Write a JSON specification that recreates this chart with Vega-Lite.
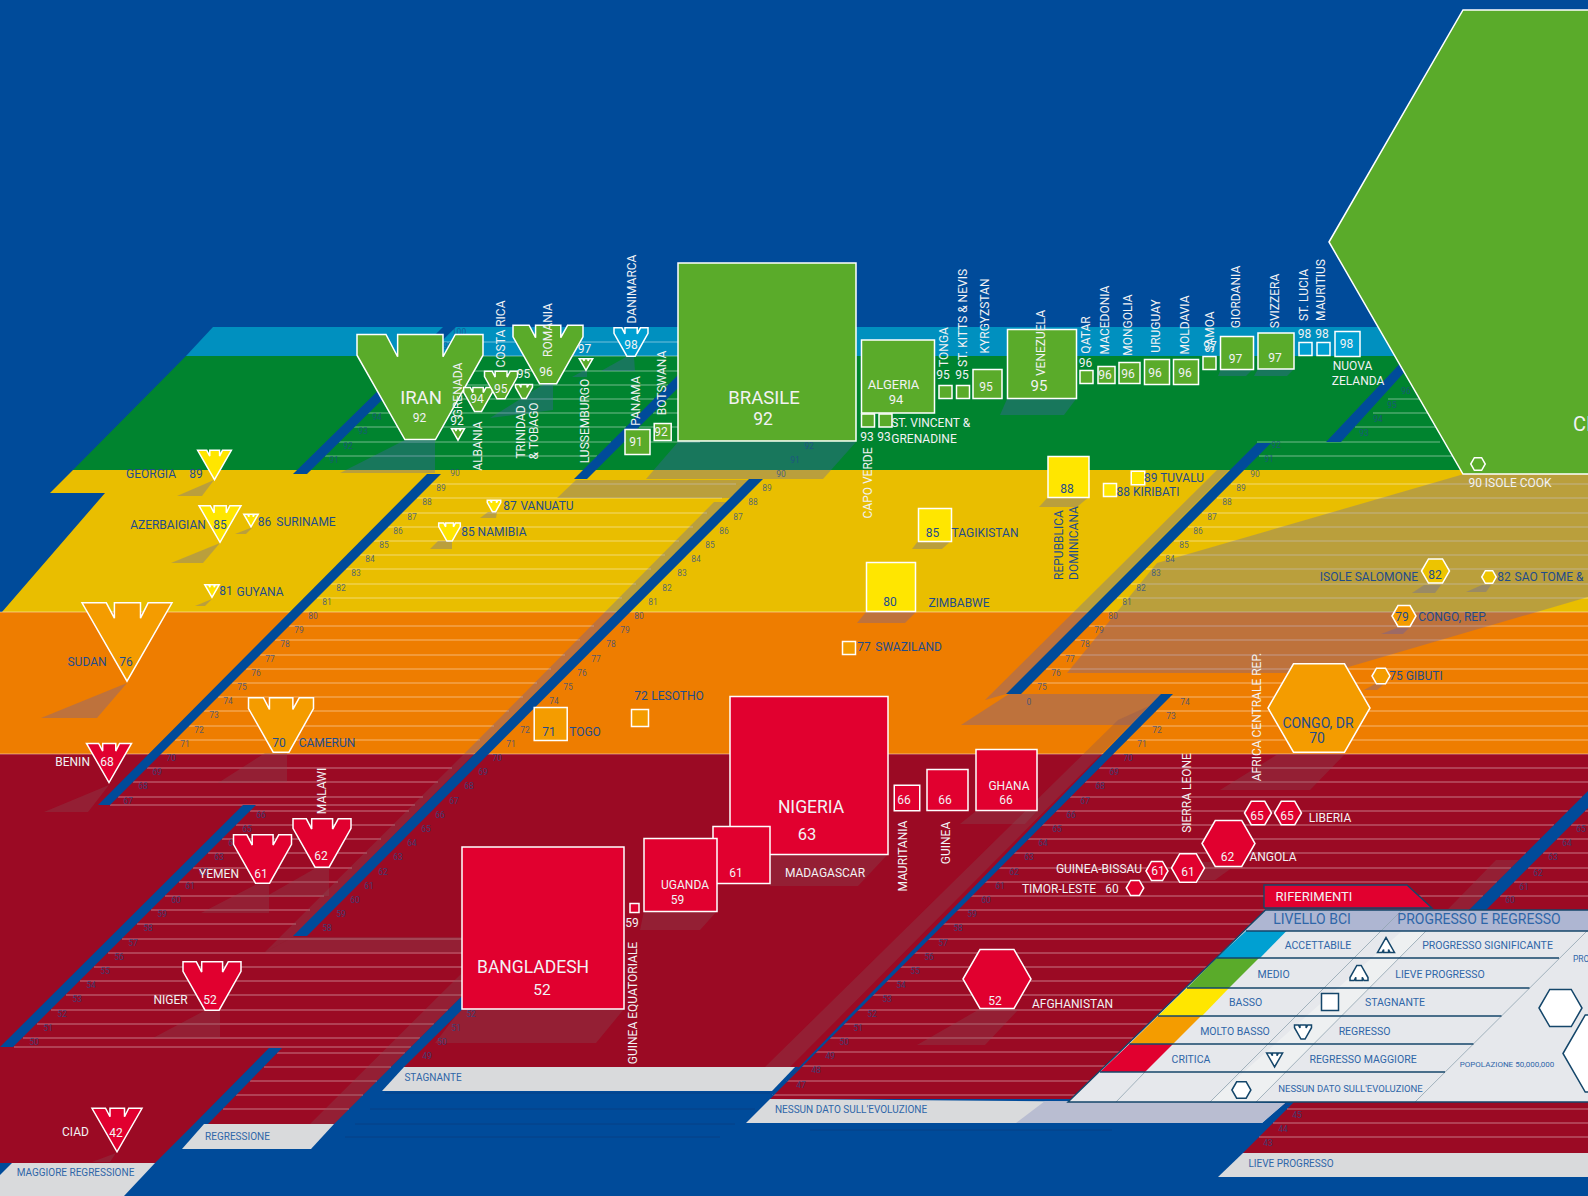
{
"$schema":"https://vega.github.io/schema/vega-lite/v6.json",
"width":1588,"height":1196,"padding":0,"autosize":{"type":"none"},"background":"#004B9A",
"config":{"view":{"stroke":null}},
"datasets":{
"bands":[
{"id":"b1","kind":"bandBlue","x":[213,1588,1588,186],"y":[327,327,356,356]},
{"id":"b2","kind":"bandGreen","x":[186,1588,1588,73],"y":[356,356,470,470]},
{"id":"b3","kind":"bandYellow","x":[73,1588,1588,2,105,50],"y":[470,470,612,612,493,493]},
{"id":"b4","kind":"bandOrange","x":[0,1588,1588,0],"y":[612,612,754,754]},
{"id":"b5","kind":"bandRed","x":[0,1588,1588,1243,1290,1276,1276,770,799,404,391,334,194,155,0],"y":[754,754,1153,1153,1106,1103,1099,1099,1067,1067,1067,1124,1124,1163,1163]}
],
"rows":[
{"y":612,"x":0,"x2":1588},{"y":754,"x":0,"x2":1588},
{"y":342,"x":439,"x2":711},{"y":356,"x":425,"x2":697},{"y":371,"x":410,"x2":682},{"y":385,"x":396,"x2":668},{"y":399,"x":382,"x2":654},{"y":413,"x":368,"x2":640},{"y":427,"x":354,"x2":626},{"y":442,"x":339,"x2":611},{"y":456,"x":325,"x2":597},
{"y":399,"x":667,"x2":700},{"y":413,"x":653,"x2":700},{"y":427,"x":639,"x2":700},{"y":442,"x":624,"x2":700},
{"y":484,"x":431,"x2":736},{"y":498,"x":417,"x2":722},{"y":513,"x":402,"x2":707},{"y":527,"x":388,"x2":693},{"y":541,"x":374,"x2":679},{"y":555,"x":360,"x2":665},{"y":569,"x":346,"x2":651},{"y":584,"x":331,"x2":636},{"y":598,"x":317,"x2":622},{"y":626,"x":289,"x2":594},{"y":640,"x":275,"x2":580},{"y":655,"x":260,"x2":565},{"y":669,"x":246,"x2":551},{"y":683,"x":232,"x2":537},{"y":697,"x":218,"x2":523},{"y":711,"x":204,"x2":509},{"y":726,"x":189,"x2":494},{"y":740,"x":175,"x2":480},{"y":768,"x":147,"x2":452},{"y":782,"x":133,"x2":438},{"y":797,"x":118,"x2":423},{"y":805,"x":110,"x2":415},
{"y":811,"x":250,"x2":409},{"y":825,"x":236,"x2":395},{"y":839,"x":222,"x2":381},{"y":853,"x":208,"x2":367},{"y":868,"x":193,"x2":352},{"y":882,"x":179,"x2":338},{"y":896,"x":165,"x2":324},{"y":910,"x":151,"x2":310},{"y":924,"x":137,"x2":296},{"y":939,"x":122,"x2":462},{"y":953,"x":108,"x2":462},{"y":967,"x":94,"x2":462},{"y":981,"x":80,"x2":462},{"y":995,"x":66,"x2":462},{"y":1010,"x":51,"x2":448},{"y":1024,"x":37,"x2":434},{"y":1038,"x":23,"x2":420},{"y":1047,"x":14,"x2":411},
{"y":1053,"x":277,"x2":405},{"y":1067,"x":264,"x2":391},{"y":1081,"x":250,"x2":377},{"y":1095,"x":236,"x2":363},{"y":1109,"x":223,"x2":349},
{"y":456,"x":1259,"x2":1460},{"y":442,"x":1257,"x2":1440},{"y":427,"x":1355,"x2":1438},{"y":413,"x":1373,"x2":1430},{"y":399,"x":1388,"x2":1421},
{"y":484,"x":1231,"x2":1588},{"y":498,"x":1217,"x2":1588},{"y":513,"x":1202,"x2":1588},{"y":527,"x":1188,"x2":1588},{"y":541,"x":1174,"x2":1588},{"y":555,"x":1160,"x2":1588},{"y":569,"x":1146,"x2":1588},{"y":584,"x":1131,"x2":1588},{"y":598,"x":1117,"x2":1588},{"y":626,"x":1089,"x2":1588},{"y":640,"x":1075,"x2":1588},{"y":655,"x":1060,"x2":1588},{"y":669,"x":1046,"x2":1588},{"y":683,"x":1032,"x2":1588},
{"y":697,"x":1170,"x2":1588},{"y":711,"x":1156,"x2":1588},{"y":726,"x":1141,"x2":1588},{"y":740,"x":1127,"x2":1588},
{"y":768,"x":1099,"x2":1588},{"y":782,"x":1085,"x2":1588},{"y":797,"x":1070,"x2":1582},{"y":811,"x":1056,"x2":1568},{"y":825,"x":1042,"x2":1554},{"y":839,"x":1028,"x2":1540},{"y":853,"x":1014,"x2":1526},{"y":868,"x":999,"x2":1511},{"y":882,"x":985,"x2":1497},{"y":896,"x":971,"x2":1483},{"y":910,"x":957,"x2":1469},{"y":924,"x":943,"x2":1455},{"y":939,"x":928,"x2":1440},{"y":953,"x":914,"x2":1426},{"y":967,"x":900,"x2":1412},{"y":981,"x":886,"x2":1398},{"y":995,"x":872,"x2":1384},{"y":1010,"x":857,"x2":1369},{"y":1024,"x":843,"x2":1355},{"y":1038,"x":829,"x2":1341},{"y":1052,"x":815,"x2":1327},{"y":1066,"x":801,"x2":1313},{"y":1081,"x":786,"x2":1298},{"y":1095,"x":772,"x2":1284},
{"y":811,"x":1585,"x2":1588},{"y":825,"x":1571,"x2":1588},{"y":839,"x":1557,"x2":1588},{"y":853,"x":1543,"x2":1588},{"y":868,"x":1528,"x2":1588},{"y":882,"x":1514,"x2":1588},{"y":896,"x":1500,"x2":1588},{"y":1109,"x":1287,"x2":1588},{"y":1123,"x":1273,"x2":1588},{"y":1137,"x":1259,"x2":1588}
],
"shadows":[
{"id":"c1","kind":"shadow","x":[1464,1157,1067,1292,1345,1588,1588],"y":[474,563,673,673,668,597,474]},
{"id":"c2","kind":"shadow","x":[1217,1229,1006,985],"y":[470,470,694,700]},
{"id":"c3","kind":"shadow","x":[1009,1165,1142,961],"y":[694,694,725,725]},
{"id":"c4","kind":"shadowRed","x":[1118,1149,790,765],"y":[720,706,1067,1067]},
{"id":"c5","kind":"shadowRed","x":[1496,1519,1360,1340],"y":[860,860,1020,1020]},
{"id":"d1","kind":"shadow","x":[646,678,856,823],"y":[479,442,442,479]},
{"id":"d2","kind":"shadow","x":[557,576,749,730],"y":[498,480,480,498]},
{"id":"d3","kind":"shadow","x":[714,726,475,465],"y":[502,502,753,753]},
{"id":"d4","kind":"shadowRed","x":[465,475,293,265],"y":[753,753,937,952]},
{"id":"d5","kind":"shadowRed","x":[293,462,462,265],"y":[937,937,952,952]},
{"id":"d6","kind":"shadowRed","x":[461,461,334,310],"y":[974,997,1124,1124]},
{"id":"d7","kind":"shadowRed","x":[461,624,596,435],"y":[1009,1009,1043,1043]},
{"id":"s1","kind":"shadow","x":[127,97,41],"y":[683,718,718]},
{"id":"s2","kind":"shadow","x":[214,202,177],"y":[480,496,496]},
{"id":"s3","kind":"shadow","x":[220,203,171],"y":[543,563,563]},
{"id":"s4","kind":"shadow","x":[253,246,235],"y":[527,534,534]},
{"id":"s5","kind":"shadow","x":[212,205,195],"y":[599,606,606]},
{"id":"s6","kind":"shadow","x":[438,452,452,430],"y":[541,541,549,549]},
{"id":"s7","kind":"shadow","x":[488,497,496,480],"y":[512,512,518,518]},
{"id":"s8","kind":"shadowRed","x":[265,287,287,218],"y":[753,753,782,783]},
{"id":"s9","kind":"shadowRed","x":[109,88,44],"y":[785,812,812]},
{"id":"s10","kind":"shadowRed","x":[257,269,269,201],"y":[884,884,913,913]},
{"id":"s11","kind":"shadowRed","x":[316,329,329,265],"y":[868,868,896,897]},
{"id":"s12","kind":"shadowRed","x":[204,220,220,153],"y":[1011,1011,1038,1038]},
{"id":"s13","kind":"shadowRed","x":[116,110,92],"y":[1153,1162,1162]},
{"id":"s14","kind":"shadow","x":[405,435,435,340],"y":[440,440,473,473]},
{"id":"s15","kind":"shadow","x":[544,553,553,490],"y":[384,384,410,418]},
{"id":"s16","kind":"shadow","x":[626,634,635,601],"y":[357,357,371,371]},
{"id":"s17","kind":"shadow","x":[583,587,587,572],"y":[371,371,377,377]},
{"id":"s18","kind":"shadow","x":[1007,1076,1064,1000],"y":[399,399,415,415]},
{"id":"s19","kind":"shadow","x":[1221,1253,1246,1218],"y":[369,369,376,376]},
{"id":"s20","kind":"shadow","x":[1258,1294,1287,1254],"y":[369,369,376,376]},
{"id":"s21","kind":"shadow","x":[1048,1089,1077,1039],"y":[497,497,507,507]},
{"id":"s22","kind":"shadow","x":[918,951,942,912],"y":[541,541,549,549]},
{"id":"s23","kind":"shadow","x":[866,916,905,857],"y":[612,612,623,623]},
{"id":"s24","kind":"shadowRed","x":[770,888,858,770],"y":[854,854,886,886]},
{"id":"s25","kind":"shadowRed","x":[644,717,700,640],"y":[911,911,930,930]},
{"id":"s26","kind":"shadowRed","x":[976,1037,1025,960],"y":[811,811,824,824]},
{"id":"s27","kind":"shadow","x":[1424,1441,1435,1412],"y":[585,585,593,593]},
{"id":"s28","kind":"shadow","x":[1482,1491,1486,1466],"y":[585,585,592,592]},
{"id":"s29","kind":"shadow","x":[1397,1409,1403,1381],"y":[628,628,634,634]},
{"id":"s30","kind":"shadow","x":[1375,1384,1377,1364],"y":[684,684,690,690]},
{"id":"s31","kind":"shadowRed","x":[1278,1345,1310,1220],"y":[754,754,790,790]},
{"id":"s32","kind":"shadowRed","x":[978,1018,985,917],"y":[1010,1010,1045,1045]},
{"id":"s33","kind":"shadowRed","x":[1200,1240,1215,1185],"y":[862,862,880,880]}
],
"strips":[
{"id":"a","kind":"strip","x":[443,456,307,293],"y":[327,327,474,474]},
{"id":"b","kind":"strip","x":[427,441,110,98],"y":[474,474,805,805]},
{"id":"c","kind":"strip","x":[243,256,13,0],"y":[805,805,1047,1047]},
{"id":"d","kind":"strip","x":[269,282,208,194],"y":[1048,1048,1124,1124]},
{"id":"e","kind":"strip","x":[574,587,730,717],"y":[479,479,336,336]},
{"id":"f","kind":"strip","x":[749,763,307,293],"y":[479,479,936,936]},
{"id":"g","kind":"strip","x":[465,479,404,391],"y":[993,993,1067,1067]},
{"id":"h","kind":"strip","x":[1257,1271,1021,1006],"y":[443,443,694,694]},
{"id":"i","kind":"strip","x":[1326,1341,1420,1408],"y":[442,442,355,355]},
{"id":"j","kind":"strip","x":[1161,1173,770,746],"y":[694,694,1099,1122]},
{"id":"k","kind":"strip","x":[1588,1588,1290,1276],"y":[791,808,1106,1103]},
{"id":"l1","kind":"label","x":[12,155,124,0,0],"y":[1163,1163,1196,1196,1175]},
{"id":"l2","kind":"label","x":[204,334,311,182],"y":[1124,1124,1149,1149]},
{"id":"l3","kind":"label","x":[404,795,772,382],"y":[1067,1067,1091,1091]},
{"id":"l4","kind":"label","x":[770,1285,1262,746],"y":[1099,1103,1123,1123]},
{"id":"l5","kind":"label","x":[1243,1588,1588,1218],"y":[1153,1153,1177,1177]}
],
"darkrows":[
{"y":1093,"x":385,"x2":770},{"y":1109,"x":370,"x2":755},{"y":1124,"x":355,"x2":735},{"y":1137,"x":345,"x2":720},{"y":1130,"x":810,"x2":1112}
],
"ticks":[
{"t":"89","x":441,"y":488},{"t":"88","x":427,"y":502},{"t":"87","x":412,"y":517},{"t":"86","x":398,"y":531},{"t":"85","x":384,"y":545},{"t":"84","x":370,"y":559},{"t":"83","x":356,"y":573},{"t":"82","x":341,"y":588},{"t":"81","x":327,"y":602},{"t":"80","x":313,"y":616},{"t":"79","x":299,"y":630},{"t":"78","x":285,"y":644},{"t":"77","x":270,"y":659},{"t":"76","x":256,"y":673},{"t":"75","x":242,"y":687},{"t":"74","x":228,"y":701},{"t":"73","x":214,"y":715},{"t":"72","x":199,"y":730},{"t":"71","x":185,"y":744},{"t":"70","x":171,"y":758},{"t":"69","x":157,"y":772},{"t":"68","x":143,"y":786},{"t":"67","x":128,"y":801},
{"t":"91","x":334,"y":460},{"t":"92","x":348,"y":446},{"t":"93","x":363,"y":431},{"t":"94","x":377,"y":417},{"t":"95","x":391,"y":403},{"t":"96","x":405,"y":389},{"t":"97","x":419,"y":375},{"t":"98","x":434,"y":360},{"t":"99","x":448,"y":346},{"t":"100","x":459,"y":332},{"t":"90","x":455,"y":473},
{"t":"66","x":261,"y":815},{"t":"65","x":247,"y":829},{"t":"64","x":233,"y":843},{"t":"63","x":219,"y":857},{"t":"62","x":204,"y":872},{"t":"61","x":190,"y":886},{"t":"60","x":176,"y":900},{"t":"59","x":162,"y":914},{"t":"58","x":148,"y":928},{"t":"57","x":133,"y":943},{"t":"56","x":119,"y":957},{"t":"55","x":105,"y":971},{"t":"54","x":91,"y":985},{"t":"53","x":77,"y":999},{"t":"52","x":62,"y":1014},{"t":"51","x":48,"y":1028},{"t":"50","x":34,"y":1042},
{"t":"92","x":809,"y":446},{"t":"91","x":795,"y":460},{"t":"90","x":781,"y":474},{"t":"89","x":767,"y":488},{"t":"88","x":753,"y":502},{"t":"87","x":738,"y":517},{"t":"86","x":724,"y":531},{"t":"85","x":710,"y":545},{"t":"84","x":696,"y":559},{"t":"83","x":682,"y":573},{"t":"82","x":667,"y":588},{"t":"81","x":653,"y":602},{"t":"80","x":639,"y":616},{"t":"79","x":625,"y":630},{"t":"78","x":611,"y":644},{"t":"77","x":596,"y":659},{"t":"76","x":582,"y":673},{"t":"75","x":568,"y":687},{"t":"74","x":554,"y":701},{"t":"72","x":525,"y":730},{"t":"71","x":511,"y":744},{"t":"70","x":497,"y":758},{"t":"69","x":483,"y":772},{"t":"68","x":469,"y":786},{"t":"67","x":454,"y":801},{"t":"66","x":440,"y":815},{"t":"65","x":426,"y":829},{"t":"64","x":412,"y":843},{"t":"63","x":398,"y":857},{"t":"62","x":383,"y":872},{"t":"61","x":369,"y":886},{"t":"60","x":355,"y":900},{"t":"59","x":341,"y":914},{"t":"58","x":327,"y":928},
{"t":"52","x":471,"y":1014},{"t":"51","x":456,"y":1028},{"t":"50","x":442,"y":1042},{"t":"49","x":427,"y":1056},
{"t":"92","x":1276,"y":445},{"t":"91","x":1269,"y":459},{"t":"90","x":1255,"y":474},{"t":"89","x":1241,"y":488},{"t":"88","x":1227,"y":502},{"t":"87","x":1212,"y":517},{"t":"86","x":1198,"y":531},{"t":"85","x":1184,"y":545},{"t":"84","x":1170,"y":559},{"t":"83","x":1156,"y":573},{"t":"82","x":1141,"y":588},{"t":"81","x":1127,"y":602},{"t":"80","x":1113,"y":616},{"t":"79","x":1099,"y":630},{"t":"78","x":1085,"y":644},{"t":"77","x":1070,"y":659},{"t":"76","x":1056,"y":673},{"t":"75","x":1042,"y":687},{"t":"0","x":1029,"y":702},
{"t":"93","x":1364,"y":433},{"t":"94","x":1378,"y":419},{"t":"95","x":1392,"y":405},{"t":"96","x":1406,"y":391},
{"t":"74","x":1185,"y":702},{"t":"73","x":1171,"y":716},{"t":"72","x":1157,"y":730},{"t":"71","x":1142,"y":744},
{"t":"70","x":1128,"y":758},{"t":"69","x":1114,"y":772},{"t":"68","x":1100,"y":786},{"t":"67","x":1085,"y":801},{"t":"66","x":1071,"y":815},{"t":"65","x":1057,"y":829},{"t":"64","x":1043,"y":843},{"t":"63","x":1029,"y":857},{"t":"62","x":1014,"y":872},{"t":"61","x":1000,"y":886},{"t":"60","x":986,"y":900},{"t":"59","x":972,"y":914},{"t":"58","x":958,"y":928},{"t":"57","x":943,"y":943},{"t":"56","x":929,"y":957},{"t":"55","x":915,"y":971},{"t":"54","x":901,"y":985},{"t":"53","x":887,"y":999},{"t":"52","x":872,"y":1014},{"t":"51","x":858,"y":1028},{"t":"50","x":844,"y":1042},{"t":"49","x":830,"y":1056},{"t":"48","x":816,"y":1070},{"t":"47","x":801,"y":1085},
{"t":"65","x":1581,"y":829},{"t":"64","x":1567,"y":843},{"t":"63","x":1553,"y":857},{"t":"62","x":1538,"y":873},{"t":"61","x":1524,"y":887},{"t":"60","x":1510,"y":900},{"t":"45","x":1297,"y":1115},{"t":"44","x":1283,"y":1129},{"t":"43","x":1268,"y":1143}
],
"countries":[
{"name":"Cina","bci":91,"x":1597,"y":242,"area":287296,"level":"Medio","trend":"Nessun dato"},
{"name":"Isole Cook","bci":90,"x":1478,"y":464,"area":210,"level":"Medio","trend":"Nessun dato"},
{"name":"Georgia","bci":89,"x":214.5,"y":465,"area":1142,"level":"Basso","trend":"Maggiore regressione"},
{"name":"Azerbaigian","bci":85,"x":220,"y":524,"area":1764,"level":"Basso","trend":"Maggiore regressione"},
{"name":"Suriname","bci":86,"x":251,"y":520.5,"area":210,"level":"Basso","trend":"Maggiore regressione"},
{"name":"Guyana","bci":81,"x":212,"y":591,"area":210,"level":"Basso","trend":"Maggiore regressione"},
{"name":"Sudan","bci":76,"x":127,"y":642,"area":8100,"level":"Molto basso","trend":"Maggiore regressione"},
{"name":"Camerun","bci":70,"x":281,"y":725,"area":4225,"level":"Molto basso","trend":"Regressione"},
{"name":"Iran","bci":92,"x":420,"y":387,"area":15876,"level":"Medio","trend":"Regressione"},
{"name":"Namibia","bci":85,"x":449.5,"y":532,"area":467,"level":"Basso","trend":"Regressione"},
{"name":"Vanuatu","bci":87,"x":494,"y":506,"area":182,"level":"Basso","trend":"Regressione"},
{"name":"Albania","bci":92,"x":458,"y":434.5,"area":169,"level":"Medio","trend":"Maggiore regressione"},
{"name":"Grenada","bci":94,"x":478,"y":399.5,"area":824,"level":"Medio","trend":"Regressione"},
{"name":"Costa Rica","bci":95,"x":501,"y":385,"area":1089,"level":"Medio","trend":"Regressione"},
{"name":"Trinidad & Tobago","bci":95,"x":524,"y":391.5,"area":289,"level":"Medio","trend":"Regressione"},
{"name":"Romania","bci":96,"x":548,"y":354.5,"area":4900,"level":"Medio","trend":"Regressione"},
{"name":"Lussemburgo","bci":97,"x":586,"y":364.5,"area":182,"level":"Medio","trend":"Maggiore regressione"},
{"name":"Danimarca","bci":98,"x":631,"y":342,"area":1156,"level":"Accettabile","trend":"Regressione"},
{"name":"Benin","bci":68,"x":109,"y":763,"area":2025,"level":"Critica","trend":"Maggiore regressione"},
{"name":"Malawi","bci":62,"x":322,"y":843,"area":3364,"level":"Critica","trend":"Regressione"},
{"name":"Yemen","bci":61,"x":262.5,"y":859,"area":3364,"level":"Critica","trend":"Regressione"},
{"name":"Niger","bci":52,"x":212,"y":986,"area":3364,"level":"Critica","trend":"Regressione"},
{"name":"Ciad","bci":42,"x":117,"y":1130,"area":2500,"level":"Critica","trend":"Maggiore regressione"},
{"name":"Brasile","bci":92,"x":767,"y":352,"area":31684,"level":"Medio","trend":"Stagnante"},
{"name":"Algeria","bci":94,"x":898,"y":376.5,"area":5329,"level":"Medio","trend":"Stagnante"},
{"name":"Capo Verde","bci":93,"x":868,"y":420.5,"area":169,"level":"Medio","trend":"Stagnante"},
{"name":"St. Vincent & Grenadine","bci":93,"x":885.5,"y":420.5,"area":169,"level":"Medio","trend":"Stagnante"},
{"name":"Tonga","bci":95,"x":945.5,"y":392,"area":169,"level":"Medio","trend":"Stagnante"},
{"name":"St. Kitts & Nevis","bci":95,"x":963,"y":392,"area":169,"level":"Medio","trend":"Stagnante"},
{"name":"Kyrgyzstan","bci":95,"x":987.5,"y":384,"area":841,"level":"Medio","trend":"Stagnante"},
{"name":"Venezuela","bci":95,"x":1042,"y":364,"area":4761,"level":"Medio","trend":"Stagnante"},
{"name":"Qatar","bci":96,"x":1086.5,"y":377,"area":169,"level":"Medio","trend":"Stagnante"},
{"name":"Macedonia","bci":96,"x":1106.5,"y":375,"area":289,"level":"Medio","trend":"Stagnante"},
{"name":"Mongolia","bci":96,"x":1129.5,"y":373,"area":441,"level":"Medio","trend":"Stagnante"},
{"name":"Uruguay","bci":96,"x":1157,"y":372,"area":625,"level":"Medio","trend":"Stagnante"},
{"name":"Moldavia","bci":96,"x":1186,"y":372,"area":625,"level":"Medio","trend":"Stagnante"},
{"name":"Samoa","bci":97,"x":1209.5,"y":363,"area":169,"level":"Medio","trend":"Stagnante"},
{"name":"Giordania","bci":97,"x":1237,"y":353,"area":1089,"level":"Medio","trend":"Stagnante"},
{"name":"Svizzera","bci":97,"x":1276,"y":351,"area":1296,"level":"Medio","trend":"Stagnante"},
{"name":"St. Lucia","bci":98,"x":1305.5,"y":349,"area":169,"level":"Accettabile","trend":"Stagnante"},
{"name":"Mauritius","bci":98,"x":1323.5,"y":349,"area":169,"level":"Accettabile","trend":"Stagnante"},
{"name":"Nuova Zelanda","bci":98,"x":1347.5,"y":344,"area":625,"level":"Accettabile","trend":"Stagnante"},
{"name":"Panama","bci":91,"x":637.5,"y":442,"area":625,"level":"Medio","trend":"Stagnante"},
{"name":"Botswana","bci":92,"x":662.7,"y":432,"area":289,"level":"Medio","trend":"Stagnante"},
{"name":"Repubblica Dominicana","bci":88,"x":1068.5,"y":477,"area":1681,"level":"Basso","trend":"Stagnante"},
{"name":"Tuvalu","bci":89,"x":1138,"y":478,"area":182,"level":"Basso","trend":"Stagnante"},
{"name":"Kiribati","bci":88,"x":1110,"y":490,"area":169,"level":"Basso","trend":"Stagnante"},
{"name":"Tagikistan","bci":85,"x":935,"y":525,"area":1089,"level":"Basso","trend":"Stagnante"},
{"name":"Zimbabwe","bci":80,"x":891,"y":587,"area":2401,"level":"Basso","trend":"Stagnante"},
{"name":"Swaziland","bci":77,"x":849,"y":648,"area":169,"level":"Molto basso","trend":"Stagnante"},
{"name":"Lesotho","bci":72,"x":640,"y":718,"area":289,"level":"Molto basso","trend":"Stagnante"},
{"name":"Togo","bci":71,"x":550.7,"y":724,"area":1089,"level":"Molto basso","trend":"Stagnante"},
{"name":"Nigeria","bci":63,"x":809,"y":775.5,"area":24964,"level":"Critica","trend":"Stagnante"},
{"name":"Madagascar","bci":61,"x":741.5,"y":855,"area":3249,"level":"Critica","trend":"Stagnante"},
{"name":"Uganda","bci":59,"x":680.5,"y":875,"area":5329,"level":"Critica","trend":"Stagnante"},
{"name":"Bangladesh","bci":52,"x":543,"y":928,"area":26244,"level":"Critica","trend":"Stagnante"},
{"name":"Guinea Equatoriale","bci":59,"x":634.5,"y":908,"area":81,"level":"Critica","trend":"Stagnante"},
{"name":"Mauritania","bci":66,"x":907,"y":798,"area":650,"level":"Critica","trend":"Stagnante"},
{"name":"Guinea","bci":66,"x":947.5,"y":790,"area":1681,"level":"Critica","trend":"Stagnante"},
{"name":"Ghana","bci":66,"x":1006.5,"y":780,"area":3721,"level":"Critica","trend":"Stagnante"},
{"name":"Isole Salomone","bci":82,"x":1435.5,"y":571,"area":784,"level":"Basso scuro","trend":"Nessun dato"},
{"name":"Sao Tome","bci":82,"x":1489,"y":577,"area":210,"level":"Basso scuro","trend":"Nessun dato"},
{"name":"Congo, Rep.","bci":79,"x":1404,"y":616,"area":576,"level":"Molto basso","trend":"Nessun dato"},
{"name":"Gibuti","bci":75,"x":1381,"y":676,"area":324,"level":"Molto basso","trend":"Nessun dato"},
{"name":"Congo, DR","bci":70,"x":1319,"y":708,"area":10404,"level":"Molto basso","trend":"Nessun dato"},
{"name":"Africa Centrale Rep.","bci":65,"x":1258,"y":813,"area":729,"level":"Critica","trend":"Nessun dato"},
{"name":"Liberia","bci":65,"x":1288,"y":813,"area":729,"level":"Critica","trend":"Nessun dato"},
{"name":"Angola","bci":62,"x":1228.5,"y":843.5,"area":2809,"level":"Critica","trend":"Nessun dato"},
{"name":"Sierra Leone","bci":61,"x":1188,"y":868,"area":1089,"level":"Critica","trend":"Nessun dato"},
{"name":"Guinea-Bissau","bci":61,"x":1157,"y":871,"area":484,"level":"Critica","trend":"Nessun dato"},
{"name":"Timor-Leste","bci":60,"x":1135,"y":888,"area":306,"level":"Critica","trend":"Nessun dato"},
{"name":"Afghanistan","bci":52,"x":997,"y":979,"area":4624,"level":"Critica","trend":"Nessun dato"}
],
"texth":[
{"t":"CINA","x":1596,"y":425,"s":20,"k":"light"},{"t":"91","x":1598,"y":450,"s":18,"k":"light"},
{"t":"GEORGIA","x":151,"y":474,"s":12,"k":"dark"},{"t":"89","x":196,"y":474,"s":12,"k":"dark"},
{"t":"AZERBAIGIAN","x":168,"y":525,"s":12,"k":"dark"},{"t":"85","x":220,"y":525,"s":12,"k":"dark"},
{"t":"86","x":264.5,"y":522,"s":12,"k":"dark"},{"t":"SURINAME","x":306,"y":522,"s":12,"k":"dark"},
{"t":"81","x":226,"y":591,"s":12,"k":"dark"},{"t":"GUYANA","x":260,"y":592,"s":12,"k":"dark"},
{"t":"SUDAN","x":87,"y":662,"s":12,"k":"dark"},{"t":"76","x":126,"y":662,"s":12,"k":"dark"},
{"t":"70","x":279,"y":743,"s":12,"k":"dark"},{"t":"CAMERUN","x":327,"y":743,"s":12,"k":"dark"},
{"t":"IRAN","x":421,"y":398,"s":18.5,"k":"light"},{"t":"92","x":419.6,"y":418,"s":12,"k":"light"},
{"t":"92","x":457,"y":421,"s":12,"k":"light"},{"t":"94","x":477,"y":399,"s":12,"k":"light"},{"t":"95","x":500.7,"y":389,"s":12,"k":"light"},{"t":"95","x":523.6,"y":374,"s":12,"k":"light"},{"t":"96","x":546,"y":372,"s":12,"k":"light"},{"t":"97","x":584.6,"y":349,"s":12,"k":"light"},{"t":"98","x":631,"y":345,"s":12,"k":"light"},{"t":"91","x":636,"y":442,"s":12,"k":"light"},{"t":"92","x":661,"y":432,"s":12,"k":"light"},
{"t":"BRASILE","x":764,"y":398,"s":18.5,"k":"light"},{"t":"92","x":763,"y":420,"s":17.5,"k":"light"},
{"t":"ALGERIA","x":893.6,"y":385,"s":13,"k":"light"},{"t":"94","x":896,"y":400,"s":13,"k":"light"},
{"t":"93","x":867,"y":437,"s":12,"k":"light"},{"t":"93","x":884,"y":437,"s":12,"k":"light"},{"t":"ST. VINCENT &","x":930.7,"y":423,"s":12,"k":"light"},{"t":"GRENADINE","x":924,"y":439,"s":12,"k":"light"},
{"t":"95","x":943,"y":375,"s":12,"k":"light"},{"t":"95","x":962,"y":375,"s":12,"k":"light"},{"t":"95","x":986,"y":387,"s":12,"k":"light"},{"t":"95","x":1039,"y":386,"s":15,"k":"light"},
{"t":"96","x":1085.5,"y":363,"s":12,"k":"light"},{"t":"96","x":1105,"y":375,"s":12,"k":"light"},{"t":"96","x":1128,"y":374,"s":12,"k":"light"},{"t":"96","x":1155,"y":373,"s":12,"k":"light"},{"t":"96","x":1185,"y":373,"s":12,"k":"light"},{"t":"97","x":1210,"y":346,"s":12,"k":"light"},{"t":"97","x":1235.5,"y":359,"s":12,"k":"light"},{"t":"97","x":1275,"y":358,"s":12,"k":"light"},{"t":"98","x":1304.5,"y":334,"s":12,"k":"light"},{"t":"98","x":1322,"y":334,"s":12,"k":"light"},{"t":"98","x":1346.5,"y":344,"s":12,"k":"light"},
{"t":"NUOVA","x":1352.5,"y":366,"s":12,"k":"light"},{"t":"ZELANDA","x":1358,"y":381,"s":12,"k":"light"},{"t":"90  ISOLE COOK","x":1510,"y":483,"s":12,"k":"light"},
{"t":"88","x":1067,"y":489,"s":12,"k":"dark"},{"t":"89 TUVALU","x":1174,"y":478,"s":12,"k":"dark"},{"t":"88 KIRIBATI","x":1148,"y":492,"s":12,"k":"dark"},
{"t":"85","x":932.5,"y":533,"s":12,"k":"dark"},{"t":"TAGIKISTAN","x":985,"y":533,"s":12,"k":"dark"},
{"t":"80","x":890,"y":602,"s":12,"k":"dark"},{"t":"ZIMBABWE","x":959,"y":603,"s":12,"k":"dark"},
{"t":"77","x":864,"y":647,"s":12,"k":"dark"},{"t":"SWAZILAND","x":908.6,"y":647,"s":12,"k":"dark"},
{"t":"72","x":641,"y":696,"s":12,"k":"dark"},{"t":"LESOTHO","x":677.5,"y":696,"s":12,"k":"dark"},
{"t":"71","x":549,"y":732,"s":12,"k":"dark"},{"t":"TOGO","x":585,"y":732,"s":12,"k":"dark"},
{"t":"87","x":510,"y":506,"s":12,"k":"dark"},{"t":"VANUATU","x":547,"y":506,"s":12,"k":"dark"},
{"t":"85","x":468,"y":532,"s":12,"k":"dark"},{"t":"NAMIBIA","x":502,"y":532,"s":12,"k":"dark"},
{"t":"ISOLE SALOMONE","x":1369,"y":577,"s":12,"k":"dark"},{"t":"82","x":1435,"y":575,"s":12,"k":"dark"},
{"t":"82","x":1504,"y":577,"s":12,"k":"dark"},{"t":"SAO TOME &","x":1549,"y":577,"s":12,"k":"dark"},
{"t":"79","x":1402,"y":617,"s":12,"k":"dark"},{"t":"CONGO, REP.","x":1452.6,"y":617,"s":12,"k":"dark"},
{"t":"75 GIBUTI","x":1416,"y":676,"s":12,"k":"dark"},
{"t":"CONGO, DR","x":1318,"y":724,"s":14,"k":"dark"},{"t":"70","x":1317,"y":739,"s":14,"k":"dark"},
{"t":"65","x":1257,"y":816,"s":12,"k":"light"},{"t":"65","x":1287,"y":816,"s":12,"k":"light"},{"t":"LIBERIA","x":1330,"y":818,"s":12,"k":"light"},
{"t":"62","x":1227.5,"y":857,"s":12,"k":"light"},{"t":"ANGOLA","x":1273,"y":857,"s":12,"k":"light"},
{"t":"GUINEA-BISSAU","x":1099,"y":869,"s":12,"k":"light"},{"t":"61","x":1158,"y":871,"s":12,"k":"light"},{"t":"61","x":1188,"y":872,"s":12,"k":"light"},
{"t":"TIMOR-LESTE","x":1059,"y":889,"s":12,"k":"light"},{"t":"60","x":1112,"y":889,"s":12,"k":"light"},
{"t":"52","x":995,"y":1001,"s":12,"k":"light"},{"t":"AFGHANISTAN","x":1072.5,"y":1004,"s":12,"k":"light"},
{"t":"GHANA","x":1009,"y":786,"s":12,"k":"light"},{"t":"66","x":1006,"y":800,"s":12,"k":"light"},{"t":"66","x":945,"y":800,"s":12,"k":"light"},{"t":"66","x":904,"y":800,"s":12,"k":"light"},
{"t":"NIGERIA","x":811,"y":808,"s":17.5,"k":"light"},{"t":"63","x":807,"y":835,"s":16.5,"k":"light"},
{"t":"61","x":736,"y":873,"s":12,"k":"light"},{"t":"MADAGASCAR","x":825,"y":873,"s":12,"k":"light"},
{"t":"UGANDA","x":685,"y":885,"s":12,"k":"light"},{"t":"59","x":677.5,"y":900,"s":12,"k":"light"},
{"t":"BANGLADESH","x":533,"y":968,"s":17.5,"k":"light"},{"t":"52","x":542,"y":990,"s":15.5,"k":"light"},
{"t":"59","x":632,"y":923,"s":12,"k":"light"},
{"t":"BENIN","x":72.6,"y":762,"s":12,"k":"light"},{"t":"68","x":107,"y":762,"s":12,"k":"light"},
{"t":"62","x":321,"y":856,"s":12,"k":"light"},{"t":"YEMEN","x":219,"y":874,"s":12,"k":"light"},{"t":"61","x":261,"y":874,"s":12,"k":"light"},
{"t":"NIGER","x":170.6,"y":1000,"s":12,"k":"light"},{"t":"52","x":210,"y":1000,"s":12,"k":"light"},
{"t":"CIAD","x":75.5,"y":1132,"s":12,"k":"light"},{"t":"42","x":116,"y":1133,"s":12,"k":"light"},
{"t":"MAGGIORE REGRESSIONE","x":75.5,"y":1173,"s":10,"k":"legend"},{"t":"REGRESSIONE","x":237.5,"y":1137,"s":10,"k":"legend"},{"t":"STAGNANTE","x":433,"y":1078,"s":10,"k":"legend"},{"t":"NESSUN DATO SULL'EVOLUZIONE","x":851,"y":1110,"s":10,"k":"legend"},{"t":"LIEVE PROGRESSO","x":1291,"y":1164,"s":10,"k":"legend"}
],
"textv":[
{"t":"GRENADA","x":458,"y":390,"k":"light"},{"t":"COSTA RICA","x":500.7,"y":334,"k":"light"},{"t":"ALBANIA","x":478,"y":446,"k":"light"},{"t":"TRINIDAD","x":521,"y":432,"k":"light"},{"t":"& TOBAGO","x":534,"y":431,"k":"light"},{"t":"ROMANIA","x":548,"y":330,"k":"light"},{"t":"LUSSEMBURGO","x":584.6,"y":421,"k":"light"},{"t":"DANIMARCA","x":632,"y":289,"k":"light"},{"t":"PANAMA","x":636,"y":401,"k":"light"},{"t":"BOTSWANA","x":662,"y":383,"k":"light"},{"t":"CAPO VERDE","x":867.5,"y":483,"k":"light"},{"t":"TONGA","x":944,"y":347,"k":"light"},{"t":"ST. KITTS & NEVIS","x":963,"y":318,"k":"light"},{"t":"KYRGYZSTAN","x":985,"y":316,"k":"light"},{"t":"VENEZUELA","x":1041,"y":343,"k":"light"},{"t":"QATAR","x":1086,"y":335,"k":"light"},{"t":"MACEDONIA","x":1105,"y":320,"k":"light"},{"t":"MONGOLIA","x":1128,"y":325,"k":"light"},{"t":"URUGUAY","x":1156,"y":326,"k":"light"},{"t":"MOLDAVIA","x":1185,"y":325,"k":"light"},{"t":"SAMOA","x":1210,"y":332,"k":"light"},{"t":"GIORDANIA","x":1236,"y":297,"k":"light"},{"t":"SVIZZERA","x":1275,"y":301,"k":"light"},{"t":"ST. LUCIA","x":1304,"y":295,"k":"light"},{"t":"MAURITIUS","x":1321,"y":290,"k":"light"},
{"t":"REPUBBLICA","x":1059,"y":545,"k":"dark"},{"t":"DOMINICANA","x":1074,"y":543,"k":"dark"},
{"t":"AFRICA CENTRALE REP.","x":1257,"y":717,"k":"light"},{"t":"SIERRA LEONE","x":1187,"y":793,"k":"light"},{"t":"GUINEA","x":946,"y":843,"k":"light"},{"t":"MAURITANIA","x":903.4,"y":856,"k":"light"},{"t":"GUINEA EQUATORIALE","x":633,"y":1003,"k":"light"},{"t":"MALAWI","x":322,"y":791,"k":"light"}
],
"legendfill":[
{"id":"p0","kind":"panelShadow","x":[1045,1285,1262,1016],"y":[1101,1103,1123,1123]},
{"id":"p1","kind":"panel","x":[1265.5,1588,1588,1068],"y":[910,910,1102,1102]},
{"id":"p2","kind":"panelLight","x":[1402,1426,1256,1210],"y":[931,931,1102,1102]},
{"id":"p3","kind":"panelHead","x":[1265.5,1588,1588,1246],"y":[910,910,931,931]},
{"id":"p4","kind":"Accettabile","x":[1246,1286.5,1260,1216.6],"y":[931,931,958,958]},
{"id":"p5","kind":"Medio","x":[1216.6,1259,1229,1187],"y":[958,958,988,988]},
{"id":"p6","kind":"Basso","x":[1187,1229,1202,1158],"y":[988,988,1016,1016]},
{"id":"p7","kind":"Molto basso","x":[1158,1201,1173,1129.5],"y":[1016,1016,1044,1044]},
{"id":"p8","kind":"Critica","x":[1129.5,1173,1145,1100],"y":[1044,1044,1072,1072]},
{"id":"p9","kind":"Critica","x":[1264,1407,1432,1264],"y":[885,885,908,908]}
],
"legendthin":[
{"id":"t1","x":[1145,1116],"y":[1072,1102]},
{"id":"t2","x":[1402,1210],"y":[910,1102]},
{"id":"t3","x":[1426,1256],"y":[931,1102]},
{"id":"t4","x":[1587,1415],"y":[931,1102]}
],
"legendline":[
{"id":"o1","x":[1588,1265.5,1068,1588],"y":[910,910,1102,1102]},
{"id":"o2","x":[1264,1264,1407,1432,1264],"y":[908,885,885,908,908]},
{"id":"o3","x":[1246,1588],"y":[931,931]},
{"id":"o4","x":[1216.6,1559],"y":[958,958]},
{"id":"o5","x":[1187,1529.5],"y":[988,988]},
{"id":"o6","x":[1158,1501.5],"y":[1016,1016]},
{"id":"o7","x":[1129.5,1473.5],"y":[1044,1044]},
{"id":"o8","x":[1100,1445],"y":[1072,1072]}
],
"legendicons":[
{"x":1386,"y":945,"area":289,"trend":"Progresso significante"},
{"x":1359,"y":973,"area":324,"trend":"Lieve progresso"},
{"x":1330,"y":1002,"area":289,"trend":"Stagnante"},
{"x":1303,"y":1032,"area":289,"trend":"Regressione"},
{"x":1274.6,"y":1060,"area":256,"trend":"Maggiore regressione"},
{"x":1241.4,"y":1090,"area":361,"trend":"Nessun dato"},
{"x":1560.5,"y":1008,"area":1849,"trend":"Nessun dato"},
{"x":1607.5,"y":1053.5,"area":7921,"trend":"Nessun dato"}
],
"legendtext":[
{"t":"RIFERIMENTI","x":1314,"y":897,"s":13,"k":"light"},
{"t":"LIVELLO BCI","x":1312,"y":920,"s":14,"k":"legend"},{"t":"PROGRESSO E REGRESSO","x":1479,"y":920,"s":14,"k":"legend"},
{"t":"ACCETTABILE","x":1318,"y":946,"s":10.5,"k":"legend"},{"t":"PROGRESSO SIGNIFICANTE","x":1487.5,"y":946,"s":10.5,"k":"legend"},
{"t":"MEDIO","x":1273.6,"y":975,"s":10.5,"k":"legend"},{"t":"LIEVE PROGRESSO","x":1440,"y":975,"s":10.5,"k":"legend"},
{"t":"BASSO","x":1245.6,"y":1003,"s":10.5,"k":"legend"},{"t":"STAGNANTE","x":1395,"y":1003,"s":10.5,"k":"legend"},
{"t":"MOLTO BASSO","x":1235,"y":1032,"s":10.5,"k":"legend"},{"t":"REGRESSO","x":1364.5,"y":1032,"s":10.5,"k":"legend"},
{"t":"CRITICA","x":1191,"y":1060,"s":10.5,"k":"legend"},{"t":"REGRESSO MAGGIORE","x":1363,"y":1060,"s":10.5,"k":"legend"},
{"t":"NESSUN DATO SULL'EVOLUZIONE","x":1350.5,"y":1089,"s":9.5,"k":"legend"},
{"t":"POPOLAZIONE 50,000,000","x":1507,"y":1065,"s":8,"k":"legend"},{"t":"PROGRESSO","x":1597,"y":959,"s":8.5,"k":"legend"}
]
},
"encoding":{
"x":{"field":"x","type":"quantitative","axis":null,"scale":{"domain":[0,1588],"nice":false,"zero":false}},
"y":{"field":"y","type":"quantitative","axis":null,"scale":{"domain":[0,1196],"reverse":true,"nice":false,"zero":false}}
},
"layer":[
{"data":{"name":"bands"},"transform":[{"flatten":["x","y"]}],
 "mark":{"type":"line","order":null,"strokeWidth":0},
 "encoding":{"detail":{"field":"id"},"fill":{"field":"kind","legend":null,"scale":{"domain":["bandBlue","bandGreen","bandYellow","bandOrange","bandRed","strip","shadow","shadowRed","label","panel","panelLight","panelHead","panelShadow","Accettabile","Medio","Basso","Basso scuro","Molto basso","Critica"],"range":["#0090BF","#00842F","#E9BE00","#EE7D00","#9B0A24","#004B9A","#505AC8","#845358","#D9DADC","#E6E8EC","#EEF0F1","#AEB6D2","#B9BDD1","#00A0D2","#5AAB2A","#FFE600","#EDC400","#F49C00","#E1002F"]}}}},
{"data":{"name":"rows"},"mark":{"type":"rule","stroke":"#ffffff","strokeOpacity":0.45,"strokeWidth":1},"encoding":{"x2":{"field":"x2"}}},
{"data":{"name":"shadows"},"transform":[{"flatten":["x","y"]}],
 "mark":{"type":"line","order":null,"strokeWidth":0,"fillOpacity":0.3},
 "encoding":{"detail":{"field":"id"},"fill":{"field":"kind","legend":null}}},
{"data":{"name":"strips"},"transform":[{"flatten":["x","y"]}],
 "mark":{"type":"line","order":null,"strokeWidth":0},
 "encoding":{"detail":{"field":"id"},"fill":{"field":"kind","legend":null}}},
{"data":{"name":"darkrows"},"mark":{"type":"rule","stroke":"#0A3A78","strokeOpacity":0.6,"strokeWidth":1},"encoding":{"x2":{"field":"x2"}}},
{"data":{"name":"ticks"},"mark":{"type":"text","font":"Roboto","fontSize":8.5,"fill":"#1F4C8C","fillOpacity":0.75,"align":"center","baseline":"middle"},"encoding":{"text":{"field":"t"}}},
{"data":{"name":"countries"},"mark":{"type":"point","filled":true,"opacity":1,"stroke":"#FFFFFF","strokeWidth":1.5},
 "encoding":{"fill":{"field":"level","legend":null},"size":{"field":"area","type":"quantitative","scale":null},
 "shape":{"field":"trend","legend":null,"scale":{"domain":["Maggiore regressione","Regressione","Stagnante","Nessun dato","Lieve progresso","Progresso significante"],"range":["M-1,-0.87L-0.46,-0.87L-0.28,-0.53L-0.28,-0.87L0.3,-0.87L0.3,-0.53L0.47,-0.87L1,-0.87L0,0.87Z","M-1,-0.835L-0.54,-0.835L-0.355,-0.48L-0.355,-0.835L0.365,-0.835L0.365,-0.48L0.56,-0.835L1,-0.835L1,-0.505L0.245,0.835L-0.24,0.835L-1,-0.505Z","square","M-1,0L-0.5,-0.866L0.5,-0.866L1,0L0.5,0.866L-0.5,0.866Z","M-1,0.835L-0.54,0.835L-0.355,0.48L-0.355,0.835L0.365,0.835L0.365,0.48L0.56,0.835L1,0.835L1,0.505L0.245,-0.835L-0.24,-0.835L-1,0.505Z","M-1,0.87L-0.46,0.87L-0.28,0.53L-0.28,0.87L0.3,0.87L0.3,0.53L0.47,0.87L1,0.87L0,-0.87Z"]}}}},
{"data":{"name":"texth"},"mark":{"type":"text","font":"Roboto","align":"center","baseline":"middle"},
 "encoding":{"text":{"field":"t"},"size":{"field":"s","type":"quantitative","scale":null},"color":{"field":"k","legend":null,"scale":{"domain":["light","dark","legend"],"range":["#F2F2F4","#1F4C8C","#2F66A8"]}}}},
{"data":{"name":"textv"},"mark":{"type":"text","font":"Roboto","fontSize":12,"angle":270,"align":"center","baseline":"middle"},
 "encoding":{"text":{"field":"t"},"color":{"field":"k","legend":null}}},
{"data":{"name":"legendfill"},"transform":[{"flatten":["x","y"]}],
 "mark":{"type":"line","order":null,"strokeWidth":0},
 "encoding":{"detail":{"field":"id"},"fill":{"field":"kind","legend":null}}},
{"data":{"name":"legendthin"},"transform":[{"flatten":["x","y"]}],
 "mark":{"type":"line","order":null,"stroke":"#8FA3B0","strokeWidth":0.8},"encoding":{"detail":{"field":"id"}}},
{"data":{"name":"legendline"},"transform":[{"flatten":["x","y"]}],
 "mark":{"type":"line","order":null,"stroke":"#14466A","strokeWidth":1.4},"encoding":{"detail":{"field":"id"}}},
{"data":{"name":"legendicons"},"mark":{"type":"point","filled":true,"opacity":1,"fill":"#FFFFFF","stroke":"#14466A","strokeWidth":1.5},
 "encoding":{"size":{"field":"area","type":"quantitative","scale":null},"shape":{"field":"trend","legend":null}}},
{"data":{"name":"legendtext"},"mark":{"type":"text","font":"Roboto","align":"center","baseline":"middle"},
 "encoding":{"text":{"field":"t"},"size":{"field":"s","type":"quantitative","scale":null},"color":{"field":"k","legend":null}}}
]
}
